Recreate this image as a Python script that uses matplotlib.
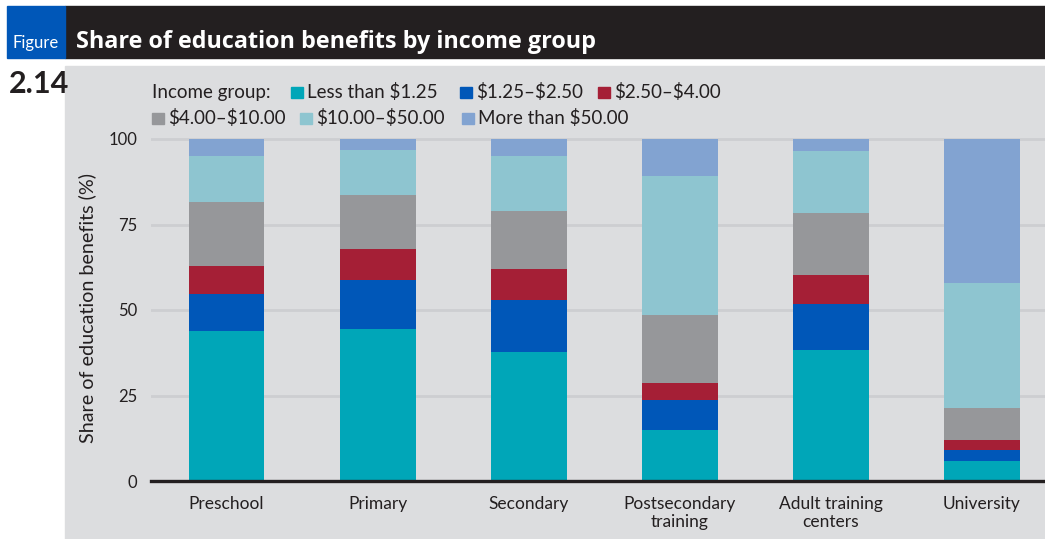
#!/usr/bin/env python3
import numpy as np
import matplotlib
matplotlib.use('Agg')
import matplotlib.pyplot as plt
from matplotlib.patches import Rectangle

categories = ['Preschool', 'Primary', 'Secondary', 'Postsecondary\ntraining',
              'Adult training\ncenters', 'University']
groups = ['Less than $1.25', '$1.25\u2013$2.50', '$2.50\u2013$4.00',
          '$4.00\u2013$10.00', '$10.00\u2013$50.00', 'More than $50.00']
colors = ['#00A6B8', '#0057B8', '#A51F36', '#96979A', '#8EC5D0', '#82A3D1']

# share of benefits (%) per income group
less_125 = [43.8, 44.4, 37.7, 14.8, 38.2, 5.8]
from_125_250 = [11.0, 14.3, 15.2, 8.9, 13.7, 3.4]
from_250_400 = [8.0, 9.1, 9.1, 4.9, 8.3, 2.7]
from_400_1000 = [18.8, 15.8, 16.9, 19.9, 18.1, 9.4]
from_1000_5000 = [13.4, 13.2, 16.1, 40.7, 18.2, 36.6]
more_5000 = [5.0, 3.2, 5.0, 10.8, 3.5, 42.1]
series = [less_125, from_125_250, from_250_400, from_400_1000, from_1000_5000, more_5000]
yticks = [0, 25, 50, 75, 100]

W, H = 1045, 539
plt.rcParams['font.family'] = ['Lato', 'DejaVu Sans']
plt.rcParams['text.parse_math'] = False
fig = plt.figure(figsize=(W / 100, H / 100), dpi=100, facecolor='white')

def fx(x):
    return x / W

def fy(y):
    return 1 - y / H

# panel, header bar and figure box
fig.patches.append(Rectangle((fx(65), 0), fx(W - 65), fy(66), transform=fig.transFigure,
                             color='#DCDDDF', zorder=0))
fig.patches.append(Rectangle((fx(65), fy(58)), fx(W - 65), (58 - 6) / H, transform=fig.transFigure,
                             color='#231F20', zorder=0))
fig.patches.append(Rectangle((fx(7), fy(58)), fx(58), (58 - 6) / H, transform=fig.transFigure,
                             color='#0057B8', zorder=0))
fig.text(fx(36), fy(48), 'Figure', color='white', fontsize=12, ha='center', va='baseline')
fig.text(fx(76), fy(48), 'Share of education benefits by income group', color='white',
         fontsize=16.8, fontweight='bold', ha='left', va='baseline', family=['Open Sans', 'Lato'])
fig.text(fx(9), fy(93), '2.14', color='#231F20', fontsize=22, fontweight='bold',
         ha='left', va='baseline')

# legend
txt = '#231F20'
fig.text(fx(152), fy(98), 'Income group:', fontsize=13.5, color=txt, va='baseline')
legend_pos = [(291, 98), (460, 98), (598, 98), (152, 124), (300, 124), (462, 124)]
for (x, yb), lab, c in zip(legend_pos, groups, colors):
    fig.patches.append(Rectangle((fx(x), fy(yb)), fx(11.5), 11.5 / H, transform=fig.transFigure,
                                 color=c, zorder=1))
    fig.text(fx(x + 16), fy(yb), lab, fontsize=13.5, color=txt, va='baseline')

# chart
top = 101
ax = fig.add_axes([fx(151), fy(481), fx(W - 151), (481 - 139) * top / 100 / H])
ax.set_zorder(5)
ax.set_facecolor('none')
x = np.arange(len(categories))
bottom = np.zeros(len(categories))
for vals, c, lab in zip(series, colors, groups):
    ax.bar(x, vals, width=0.503, bottom=bottom, color=c, label=lab, zorder=2)
    bottom += np.array(vals)

ax.set_xlim(-0.5, 5.42)
ax.set_ylim(0, top)
ax.set_yticks(yticks)
ax.set_xticks(x)
ax.set_xticklabels(categories, fontsize=12.5, color=txt, linespacing=1.1)
ax.set_yticklabels([str(v) for v in yticks], fontsize=12, color=txt)
ax.tick_params(axis='y', length=0, pad=10)
ax.tick_params(axis='x', length=0, pad=11)
ax.grid(axis='y', color='#CDCED1', linewidth=2, zorder=0)
ax.set_axisbelow(True)
for s in ['top', 'right', 'left']:
    ax.spines[s].set_visible(False)
ax.spines['bottom'].set_color('#231F20')
ax.spines['bottom'].set_linewidth(2.4)
ax.spines['bottom'].set_zorder(3)
ax.set_ylabel('Share of education benefits (%)', fontsize=14.2, color=txt, labelpad=9)

fig.savefig('out.png', dpi=100, facecolor='white')
